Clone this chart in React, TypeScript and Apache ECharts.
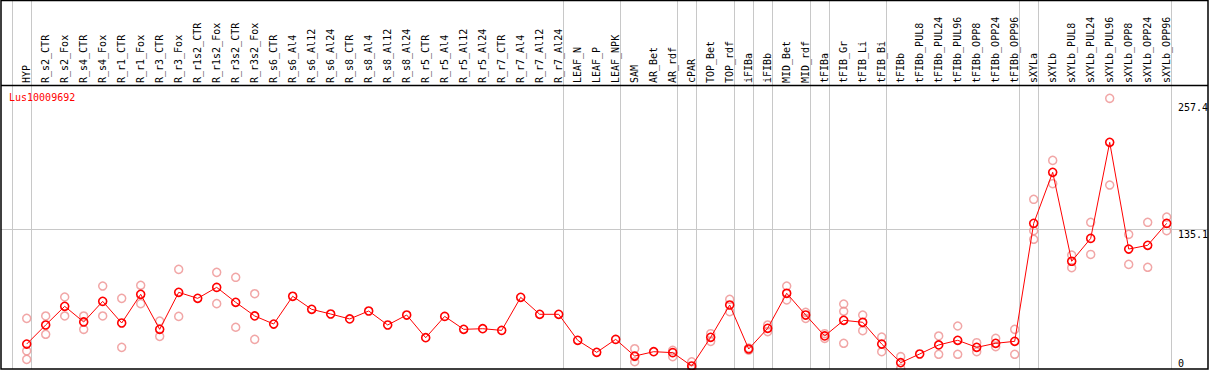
import React, { useEffect, useRef } from "react";
import * as echarts from "echarts";

const geneName = "Lus10009692";

const categories = [
  "HYP", "R_s2_CTR", "R_s2_Fox", "R_s4_CTR", "R_s4_Fox", "R_r1_CTR", "R_r1_Fox", "R_r3_CTR", "R_r3_Fox",
  "R_r1s2_CTR", "R_r1s2_Fox", "R_r3s2_CTR", "R_r3s2_Fox", "R_s6_CTR", "R_s6_Al4", "R_s6_Al12", "R_s6_Al24",
  "R_s8_CTR", "R_s8_Al4", "R_s8_Al12", "R_s8_Al24", "R_r5_CTR", "R_r5_Al4", "R_r5_Al12", "R_r5_Al24",
  "R_r7_CTR", "R_r7_Al4", "R_r7_Al12", "R_r7_Al24", "LEAF_N", "LEAF_P", "LEAF_NPK", "SAM", "AR_Bet", "AR_rdf",
  "cPAR", "TOP_Bet", "TOP_rdf", "iFIBa", "iFIBb", "MID_Bet", "MID_rdf", "tFIBa", "tFIB_Gr", "tFIB_Li", "tFIB_Bi",
  "tFIBb", "tFIBb_PUL8", "tFIBb_PUL24", "tFIBb_PUL96", "tFIBb_OPP8", "tFIBb_OPP24", "tFIBb_OPP96",
  "sXYLa", "sXYLb", "sXYLb_PUL8", "sXYLb_PUL24", "sXYLb_PUL96", "sXYLb_OPP8", "sXYLb_OPP24", "sXYLb_OPP96",
];

const means = [
  24.1, 42.5, 60.5, 45.4, 65.3, 44.4, 72.1, 38.3, 74.0,
  68.2, 78.8, 64.4, 51.2, 43.4, 70.2, 57.6, 53.1,
  48.3, 56.0, 42.5, 52.1, 30.2, 50.8, 38.3, 38.9,
  37.3, 69.2, 52.8, 52.8, 27.7, 16.1, 28.6, 12.5, 16.7, 15.8,
  2.9, 30.6, 61.8, 19.3, 39.3, 73.1, 52.1, 31.9, 47.0, 45.1, 24.1,
  6.1, 14.5, 23.2, 27.7, 20.9, 24.8, 26.7,
  140.6, 189.9, 104.0, 126.1, 218.8, 115.8, 119.4, 140.6,
];

const replicates: number[][] = [
  [48.9, 17.5, 9.3], [51.2, 33.5], [69.5, 51.2], [51.2, 38.3], [80.1, 51.2], [68.2, 20.9], [80.8, 63.1], [46.3, 31.5], [96.2, 50.8],
  [], [93.3, 63.1], [88.5, 40.3], [72.7, 28.6], [], [], [], [],
  [], [], [], [], [], [], [], [],
  [], [], [], [], [], [], [], [19.6, 12.0, 7.0], [], [18.0, 11.9],
  [7.0, 0.5], [34.1, 26.7], [67.3, 55.3], [20.2, 18.2], [42.5, 36.1], [80.1, 66.6], [54.7, 48.9], [34.1, 29.6], [62.7, 55.7, 24.8], [52.1, 37.0], [30.9, 16.7],
  [11.9, 0.7], [], [31.9, 14.2], [41.5, 14.2], [25.4, 16.7], [29.6, 21.5], [38.3, 14.2],
  [163.8, 133.5, 125.2], [201.4, 178.9], [110.0, 97.8], [141.6, 110.6], [261.3, 177.6], [130.0, 101.0], [141.6, 98.2], [146.7, 133.5],
];

// category indices after which a vertical separator is drawn
const groupBreaksAfter = [-1, 0, 28, 31, 34, 35, 37, 38, 39, 41, 42, 45, 52, 53, 60];
const yTickValues = [257.4, 135.1, 0];
const yGridValues = [135.1];
const yMax = 273.2;

const W = 1209;
const H = 370;
const FONT = "'DejaVu Sans Mono', monospace";

export default function App() {
  const ref = useRef<HTMLDivElement>(null);
  useEffect(() => {
    if (!ref.current) return;
    const chart = echarts.init(ref.current, null, { renderer: "svg" });
    const repData: [number, number][] = [];
    replicates.forEach((arr, i) => arr.forEach((v) => repData.push([i, v])));
    chart.setOption({
      animation: false,
      grid: { left: 17.2, right: 32.8, top: 86, bottom: 1, containLabel: false },
      xAxis: {
        type: "category",
        data: categories,
        position: "top",
        boundaryGap: true,
        axisLine: { show: false },
        axisTick: { show: false },
        splitLine: { show: false },
        axisLabel: {
          interval: 0,
          rotate: 90,
          margin: 3,
          fontSize: 10,
          fontFamily: FONT,
          color: "#000",
        },
      },
      yAxis: { type: "value", min: 0, max: yMax, show: false },
      series: [
        {
          type: "scatter",
          data: repData,
          symbol: "circle",
          symbolSize: 8,
          z: 2,
          itemStyle: { color: "rgba(0,0,0,0)", borderColor: "#ee9090", borderWidth: 1.5 },
        },
        {
          type: "line",
          data: means,
          symbol: "circle",
          symbolSize: 8,
          z: 3,
          lineStyle: { color: "#ff0000", width: 1 },
          itemStyle: { color: "rgba(0,0,0,0)", borderColor: "#ff0000", borderWidth: 1.6 },
        },
      ],
    });

    const p0 = chart.convertToPixel({ gridIndex: 0 }, [0, 0]) as number[];
    const p1 = chart.convertToPixel({ gridIndex: 0 }, [1, 0]) as number[];
    const step = p1[0] - p0[0];
    const yOf = (v: number) => (chart.convertToPixel({ gridIndex: 0 }, [0, v]) as number[])[1];
    const bottom = 369;
    const graphics: any[] = [];
    groupBreaksAfter.forEach((i) => {
      const x = Math.round(p0[0] + i * step + 4) + 0.5;
      graphics.push({
        type: "line",
        z: 0,
        shape: { x1: x, y1: 0, x2: x, y2: bottom },
        style: { stroke: "#c8c8c8", lineWidth: 1 },
      });
    });
    yGridValues.forEach((v) => {
      const y = Math.round(yOf(v)) + 0.5;
      graphics.push({
        type: "line",
        z: 0,
        shape: { x1: 1, y1: y, x2: W - 1, y2: y },
        style: { stroke: "#c8c8c8", lineWidth: 1 },
      });
    });
    yTickValues.forEach((v) => {
      const y = Math.min(yOf(v), bottom - 11);
      graphics.push({
        type: "text",
        z: 5,
        x: 1178,
        y: y,
        style: { text: String(v), fill: "#000", font: `10px ${FONT}`, verticalAlign: "top", align: "left" },
      });
    });
    graphics.push({
      type: "text",
      z: 5,
      x: 9,
      y: 92,
      style: { text: geneName, fill: "#ff0000", font: `10px ${FONT}`, verticalAlign: "top", align: "left" },
    });
    graphics.push({
      type: "rect",
      z: 10,
      shape: { x: 1, y: 0.5, width: W - 2, height: bottom - 0.5 },
      style: { fill: "none", stroke: "#000", lineWidth: 1.5 },
    });
    graphics.push({
      type: "line",
      z: 10,
      shape: { x1: 1, y1: 85.5, x2: W - 1, y2: 85.5 },
      style: { stroke: "#000", lineWidth: 1.5 },
    });
    chart.setOption({ graphic: graphics });

    return () => chart.dispose();
  }, []);
  return (
    <div
      ref={ref}
      style={{ position: "fixed", left: 0, top: 0, width: W, height: H, background: "#fff" }}
    />
  );
}
